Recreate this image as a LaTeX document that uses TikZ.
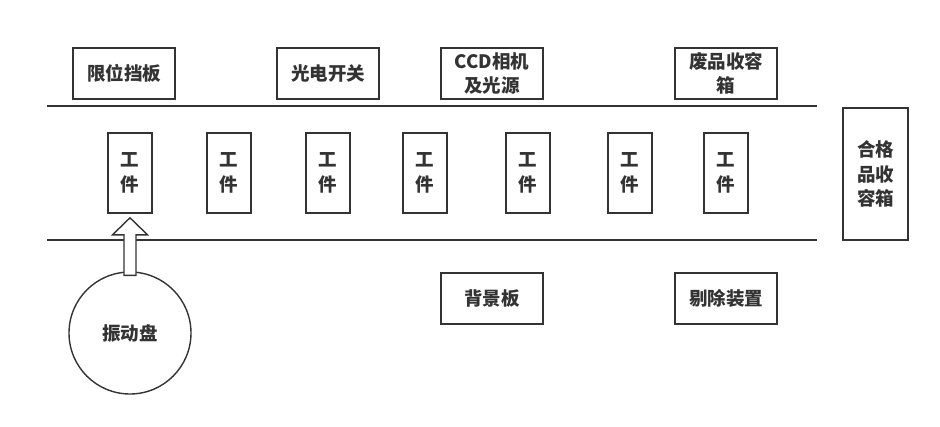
\documentclass[tikz,border=0pt]{standalone}
\usepackage{fontspec}
\setmainfont{Noto Sans CJK SC}
\usetikzlibrary{calc}
\definecolor{ink}{HTML}{333333}
\begin{document}
\begin{tikzpicture}[x=1pt,y=-1pt,
  every node/.style={font=\fontsize{18.5}{24.5}\selectfont\bfseries, text=ink},
  box/.style={draw=ink, line width=1.6pt, inner sep=0pt, align=center},
  wide/.style={box, minimum width=102pt, minimum height=51pt},
  piece/.style={box, minimum width=44pt, minimum height=80pt},
  rail/.style={draw=ink, line width=1.6pt},
  hollow/.style={draw=ink, line width=1.4pt, fill=white, line join=miter}]
\useasboundingbox (0,0) rectangle (940,426);
% rails
\coordinate (t1) at (47,106); \coordinate (t2) at (817,106);
\coordinate (b1) at (47,240); \coordinate (b2) at (817,240);
\draw[rail] (t1) -- (t2);
\draw[rail] (b1) -- (b2);
% top boxes
\node[wide] (stop) at (124,73.5) {限位挡板};
\node[wide] (sensor) at (328,73.5) {光电开关};
\node[wide] (ccd) at (492,73.5) {CCD相机\\及光源};
\node[wide] (waste) at (726,73.5) {废品收容\\箱};
% bottom boxes
\node[wide] (bg) at (492,298.5) {背景板};
\node[wide] (reject) at (726,298.5) {剔除装置};
% good bin
\node[box, minimum width=65pt, minimum height=132pt] (good) at (875.5,174) {合格\\品收\\容箱};
% workpieces
\foreach \i/\x in {1/130,2/229,3/328,4/425,5/528,6/630,7/726}
  \node[piece] (w\i) at (\x,173) {工\\件};
% vibrating bowl
\node[draw=ink, line width=1.4pt, circle, minimum size=122pt, inner sep=0pt] (bowl) at (130,333) {振动盘};
% hollow arrow from bowl to first workpiece
\coordinate (tip) at ($(w1.south)+(0,4)$);
\coordinate (foot) at ($(bowl.north)+(0,4)$);
\draw[hollow] (tip) -- ++(17.5,17) -- ++(-11.5,0) -- ($(foot)+(6,0)$) -- ($(foot)+(-6,0)$) -- ($(tip)+(-6,17)$) -- ++(-11.5,0) -- cycle;
\end{tikzpicture}
\end{document}
